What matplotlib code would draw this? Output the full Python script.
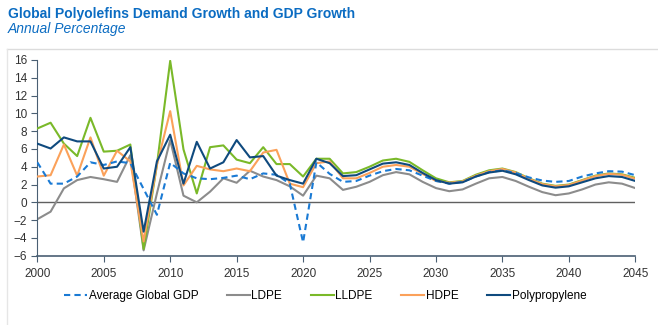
import matplotlib.pyplot as plt
from matplotlib.lines import Line2D
import numpy as np

plt.rcParams['font.family'] = ['Liberation Sans', 'DejaVu Sans']

years = np.arange(2000, 2046)

# annual growth, %
gdp = [4.5, 2.1, 2.1, 2.9, 4.5, 4.2, 4.6, 4.4, 1.5, -1.4,
       4.45, 3.25, 2.7, 2.6, 2.75, 3.0, 2.6, 3.25, 3.1, 2.1,
       -4.5, 4.5, 3.2, 2.3, 2.4, 3.0, 3.5, 3.75, 3.6, 3.0,
       2.4, 2.1, 2.3, 2.9, 3.4, 3.6, 3.3, 2.8, 2.45, 2.3,
       2.4, 2.9, 3.25, 3.5, 3.45, 3.05]
ldpe = [-1.9, -1.05, 1.57, 2.5, 2.85, 2.6, 2.3, 5.3, -5.4, 1.0,
        7.0, 0.75, 0.0, 1.2, 2.7, 2.2, 3.55, 2.9, 2.5, 1.8,
        0.75, 3.0, 2.7, 1.4, 1.75, 2.3, 3.05, 3.4, 3.15, 2.3,
        1.6, 1.25, 1.45, 2.1, 2.7, 2.85, 2.4, 1.75, 1.15, 0.8,
        1.0, 1.45, 2.0, 2.25, 2.1, 1.6]
lldpe = [8.3, 8.95, 6.6, 5.2, 9.5, 5.7, 5.8, 6.5, -5.25, 4.2,
         15.9, 5.95, 1.0, 6.2, 6.4, 4.8, 4.4, 6.2, 4.3, 4.3,
         2.9, 4.9, 4.9, 3.25, 3.4, 4.0, 4.7, 4.9, 4.55, 3.6,
         2.7, 2.25, 2.4, 3.1, 3.6, 3.8, 3.4, 2.7, 2.1, 1.85,
         2.0, 2.5, 3.0, 3.25, 3.15, 2.75]
hdpe = [2.9, 3.05, 6.5, 3.0, 7.3, 3.0, 5.8, 4.6, -4.4, 4.2,
        10.25, 1.9, 4.1, 3.7, 3.5, 3.8, 3.5, 5.6, 5.9, 2.1,
        1.7, 4.4, 4.6, 2.7, 2.7, 3.3, 4.0, 4.2, 4.0, 3.2,
        2.4, 2.2, 2.35, 3.0, 3.5, 3.75, 3.35, 2.65, 2.05, 1.8,
        1.95, 2.45, 2.95, 3.2, 3.1, 2.65]
pp = [6.6, 6.05, 7.3, 6.85, 6.85, 3.8, 4.0, 6.2, -3.3, 4.6,
      7.6, 2.1, 6.8, 3.8, 4.5, 7.0, 5.05, 5.2, 3.0, 2.5,
      2.1, 4.9, 4.4, 2.95, 3.05, 3.7, 4.35, 4.5, 4.2, 3.3,
      2.5, 2.1, 2.25, 2.9, 3.35, 3.55, 3.15, 2.5, 1.9, 1.65,
      1.8, 2.25, 2.7, 2.95, 2.85, 2.4]

c_gdp = '#1a7ad4'
c_ldpe = '#8c8c8c'
c_lldpe = '#7ab929'
c_hdpe = '#fba15a'
c_pp = '#0f4a7e'
c_title = '#0b6cc2'
c_axis = '#4a5f73'

fig = plt.figure(figsize=(6.58, 3.25), dpi=100)
ax = fig.add_axes([0.0567, 0.2132, 0.9088, 0.6022])

ax.axhline(0, color='#606060', lw=1.0, zorder=1)
ax.plot(years, ldpe, color=c_ldpe, lw=1.5, zorder=2)
ax.plot(years, lldpe, color=c_lldpe, lw=1.5, zorder=3)
ax.plot(years, hdpe, color=c_hdpe, lw=1.5, zorder=4)
ax.plot(years, gdp, color=c_gdp, lw=1.5, ls=(0, (3, 2)), zorder=5)
ax.plot(years, pp, color=c_pp, lw=1.5, zorder=6)

ax.set_xlim(2000, 2045)
ax.set_ylim(-6, 16)
ax.set_xticks(range(2000, 2046, 5))
ax.set_yticks(range(-6, 17, 2))
for s in ['top', 'right']:
    ax.spines[s].set_visible(False)
ax.spines['left'].set_color(c_axis)
ax.spines['bottom'].set_color(c_axis)
ax.spines['bottom'].set_linewidth(1.2)
ax.tick_params(axis='both', colors=c_axis, labelcolor='#333333',
               labelsize=8.5, length=4, direction='out')
ax.tick_params(axis='x', pad=5)

# frame around the chart block
fig.add_artist(Line2D([0.0106, 1.0], [0.849, 0.849], color='#dcdcdc', lw=1.0))
fig.add_artist(Line2D([0.0106, 0.0106], [0.0, 0.849], color='#e6e6e6', lw=1.0))

fig.text(0.012, 0.958, 'Global Polyolefins Demand Growth and GDP Growth',
         color=c_title, fontsize=10, fontweight='bold', va='center')
fig.text(0.012, 0.91, 'Annual Percentage', color=c_title, fontsize=10,
         style='italic', va='center')

handles = [Line2D([], [], color=c_gdp, lw=1.5, ls=(0, (3, 2))),
           Line2D([], [], color=c_ldpe, lw=1.5),
           Line2D([], [], color=c_lldpe, lw=1.5),
           Line2D([], [], color=c_hdpe, lw=1.5),
           Line2D([], [], color=c_pp, lw=1.5)]
labels = ['Average Global GDP', 'LDPE', 'LLDPE', 'HDPE', 'Polypropylene']
fig.legend(handles, labels, loc='center', bbox_to_anchor=(0.494, 0.09),
           ncol=5, frameon=False, fontsize=8.5, handlelength=1.95,
           handletextpad=0.15, columnspacing=2.4)

fig.savefig('out.png', dpi=100)
